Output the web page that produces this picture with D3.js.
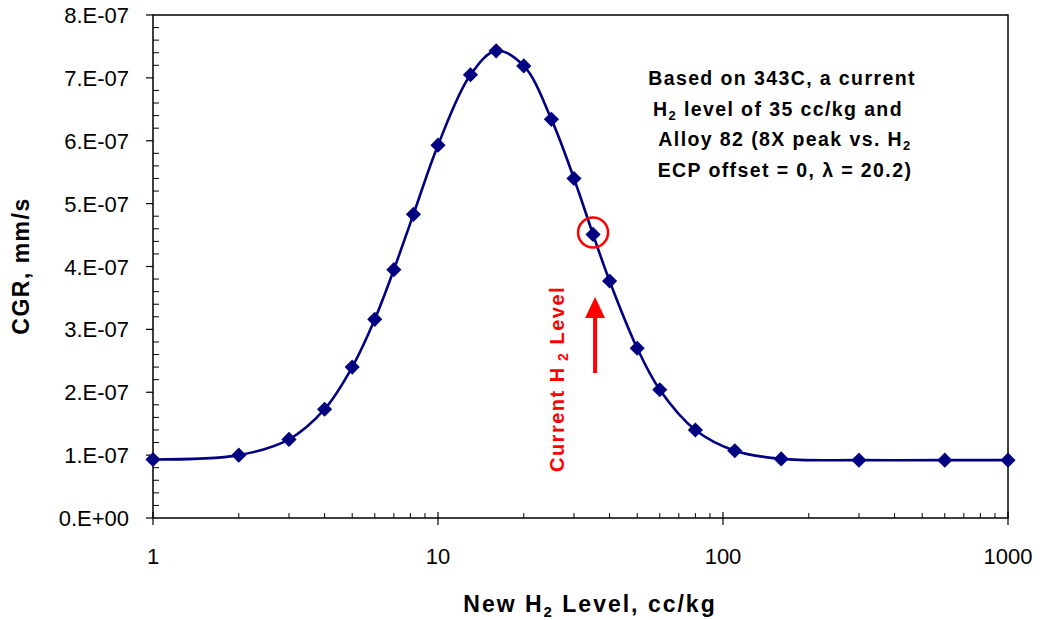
<!DOCTYPE html>
<html>
<head>
<meta charset="utf-8">
<script src="https://cdn.jsdelivr.net/npm/d3@7"></script>
<style>
  body { margin: 0; background: #fff; }
  text { font-family: Arial, "Liberation Sans", sans-serif; }
</style>
</head>
<body>
<div id="chart"></div>
<script>
// data
const h2Levels = [1, 2, 3, 4, 5, 6, 7, 8.2, 10, 13, 16, 20, 25, 30, 35, 40, 50, 60, 80, 110, 160, 300, 600, 1000];
const cgrValues = [0.93e-7, 1.0e-7, 1.25e-7, 1.73e-7, 2.40e-7, 3.16e-7, 3.95e-7, 4.83e-7, 5.93e-7, 7.05e-7,
                   7.43e-7, 7.19e-7, 6.34e-7, 5.40e-7, 4.51e-7, 3.77e-7, 2.70e-7, 2.04e-7, 1.40e-7, 1.07e-7,
                   0.94e-7, 0.92e-7, 0.92e-7, 0.92e-7];
const xTickValues = [1, 10, 100, 1000];
const yTickValues = [0, 1e-7, 2e-7, 3e-7, 4e-7, 5e-7, 6e-7, 7e-7, 8e-7];
const currentLevel = 35;

const data = h2Levels.map((d, i) => ({x: d, y: cgrValues[i]}));

var margin = {top: 15, right: 32, bottom: 102, left: 153},
    width = 1040 - margin.left - margin.right,
    height = 620 - margin.top - margin.bottom;

const svg = d3.select("#chart")
  .append("svg")
    .attr("width", 1040)
    .attr("height", 620)
  .append("g")
    .attr("transform", `translate(${margin.left},${margin.top})`);

var xscale = d3.scaleLog().domain([1, 1000]).range([0, width]);
var yscale = d3.scaleLinear().domain([0, 8e-7]).range([height, 0]);

// frame
svg.append("rect")
  .attr("width", width).attr("height", height)
  .attr("fill", "none").attr("stroke", "#000").attr("stroke-width", 1.5);

// minor x ticks (inside)
var xMinor = [];
[1, 10, 100].forEach(dec => { for (let k = 2; k <= 9; k++) xMinor.push(dec * k); });
svg.selectAll(".xminor").data(xMinor).join("line")
  .attr("x1", d => xscale(d)).attr("x2", d => xscale(d))
  .attr("y1", height).attr("y2", height - 5)
  .attr("stroke", "#000").attr("stroke-width", 1);

// major x ticks (cross)
svg.selectAll(".xmajor").data(xTickValues).join("line")
  .attr("x1", d => xscale(d)).attr("x2", d => xscale(d))
  .attr("y1", height - 6).attr("y2", height + 7)
  .attr("stroke", "#000").attr("stroke-width", 1.2);

svg.selectAll(".xlab").data(xTickValues).join("text")
  .attr("x", d => xscale(d)).attr("y", height + 46)
  .attr("text-anchor", "middle")
  .style("font-size", "22px")
  .text(d => d);

// minor y ticks (inside)
var yMinor = d3.range(0, 40).map(i => i * 0.2e-7).filter((d, i) => i % 5 != 0);
svg.selectAll(".yminor").data(yMinor).join("line")
  .attr("x1", 0).attr("x2", 6)
  .attr("y1", d => yscale(d)).attr("y2", d => yscale(d))
  .attr("stroke", "#000").attr("stroke-width", 1);

svg.selectAll(".ymajor").data(yTickValues).join("line")
  .attr("x1", -7).attr("x2", 0)
  .attr("y1", d => yscale(d)).attr("y2", d => yscale(d))
  .attr("stroke", "#000").attr("stroke-width", 1.2);

svg.selectAll(".ylab").data(yTickValues).join("text")
  .attr("x", -24).attr("y", d => yscale(d) + 8)
  .attr("text-anchor", "end")
  .style("font-size", "22px")
  .text(d => d == 0 ? "0.E+00" : (Math.round(d * 1e7)) + ".E-07");

// axis titles
var xt = svg.append("text")
  .attr("x", 590 - margin.left).attr("y", 612 - margin.top)
  .attr("text-anchor", "middle")
  .style("font-size", "23px").style("font-weight", "bold")
  .attr("letter-spacing", "2px");
xt.append("tspan").text("New H");
xt.append("tspan").attr("dy", 5).style("font-size", "15px").text("2");
xt.append("tspan").attr("dy", -5).text(" Level, cc/kg");

svg.append("text")
  .attr("transform", `translate(${29 - margin.left},${266 - margin.top}) rotate(-90)`)
  .attr("text-anchor", "middle")
  .style("font-size", "23px").style("font-weight", "bold")
  .attr("letter-spacing", "1.5px")
  .text("CGR, mm/s");

// smoothed line
var valueline = d3.line()
  .x(d => xscale(d.x))
  .y(d => yscale(d.y))
  .curve(d3.curveCatmullRom.alpha(0.5));

svg.append("path")
  .datum(data)
  .attr("d", valueline)
  .attr("fill", "none")
  .attr("stroke", "#000080")
  .attr("stroke-width", 2.6);

svg.selectAll(".pt").data(data).join("path")
  .attr("d", d3.symbol(d3.symbolSquare, 115))
  .attr("transform", d => `translate(${xscale(d.x)},${yscale(d.y)}) rotate(45)`)
  .attr("fill", "#000080");

// highlight current level
var cur = data.find(d => d.x == currentLevel);
svg.append("circle")
  .attr("cx", xscale(cur.x)).attr("cy", yscale(cur.y) - 2)
  .attr("r", 15)
  .attr("fill", "none").attr("stroke", "#ff0000").attr("stroke-width", 2.5);

// arrow
var ax = xscale(currentLevel) + 2;
svg.append("line")
  .attr("x1", ax).attr("x2", ax)
  .attr("y1", 373 - margin.top).attr("y2", 312 - margin.top)
  .attr("stroke", "#ff0000").attr("stroke-width", 4);
svg.append("path")
  .attr("d", `M${ax},${297 - margin.top} L${ax - 10},${318 - margin.top} L${ax + 10},${318 - margin.top} Z`)
  .attr("fill", "#ff0000");

var ct = svg.append("text")
  .attr("transform", `translate(${564 - margin.left},${379 - margin.top}) rotate(-90)`)
  .attr("text-anchor", "middle")
  .style("font-size", "20px").style("font-weight", "bold")
  .attr("letter-spacing", "1.5px")
  .attr("fill", "#ff0000");
ct.append("tspan").text("Current H");
ct.append("tspan").attr("dy", 4).style("font-size", "14px").text(" 2");
ct.append("tspan").attr("dy", -4).text(" Level");

// annotation
var note = svg.append("text")
  .attr("text-anchor", "middle")
  .style("font-size", "19.5px").style("font-weight", "bold")
  .attr("letter-spacing", "1.4px");
const noteX = 782 - margin.left;
note.append("tspan").attr("x", noteX).attr("y", 85 - margin.top).text("Based on 343C, a current");
var l2 = note.append("tspan").attr("x", noteX - 4).attr("y", 115.5 - margin.top);
l2.append("tspan").text("H");
l2.append("tspan").attr("dy", 4).style("font-size", "13px").text("2");
l2.append("tspan").attr("dy", -4).text(" level of 35 cc/kg and");
var l3 = note.append("tspan").attr("x", noteX + 3).attr("y", 146 - margin.top);
l3.append("tspan").text("Alloy 82 (8X peak vs. H");
l3.append("tspan").attr("dy", 4).style("font-size", "13px").text("2");
l3.append("tspan").attr("dy", -4).text("");
note.append("tspan").attr("x", noteX + 3).attr("y", 176.5 - margin.top).text("ECP offset = 0, λ = 20.2)");
</script>
</body>
</html>
